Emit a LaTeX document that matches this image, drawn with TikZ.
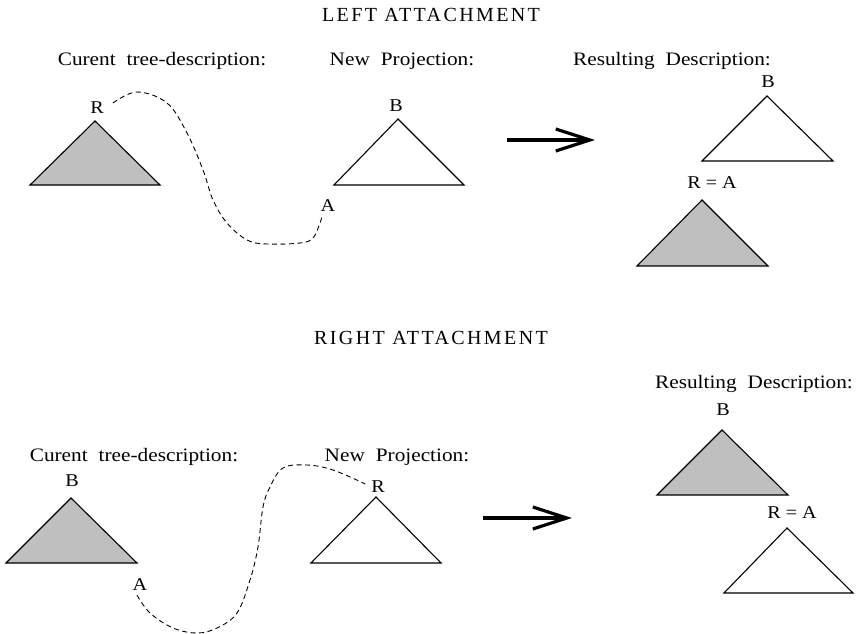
\documentclass[tikz,border=0pt]{standalone}
\usepackage{fontspec}
\setmainfont{Liberation Serif}[FakeStretch=1.12]
\newfontfamily\headfont{Liberation Serif}[LetterSpace=12]
\usetikzlibrary{arrows.meta}

\newcommand\capfont{\fontsize{19}{21}\selectfont\spaceskip 11pt\relax}

\tikzset{
  lab/.style={font=\fontsize{18}{20}\selectfont, inner sep=0pt},
  caption/.style={font=\capfont, inner sep=0pt, anchor=base},
  title/.style={font=\headfont\fontsize{20}{22}\selectfont, inner sep=0pt, anchor=base},
  tree/.style={draw=black, line width=1.1pt},
  shadedtree/.style={tree, fill=black!25},
  link/.style={line width=0.9pt, dash pattern=on 5pt off 3.5pt},
  bigarrow/.style={line width=3.2pt, -{Straight Barb[length=34pt,width=22pt]}}
}

\begin{document}
\begin{tikzpicture}[x=1pt,y=-1pt]
\useasboundingbox (0,0) rectangle (868,634);

% left attachment
\node[title] (t1) at (431,22) {LEFT ATTACHMENT};
\node[caption] (c1) at (162,66) {Curent tree-description:};
\node[caption] (p1) at (402,66) {New Projection:};
\node[caption] (d1) at (672,66) {Resulting Description:};

\draw[shadedtree] (95,121) -- (160,185) -- (30,185) -- cycle;
\node[lab] (r1) at (97,108) {R};
\draw[tree] (398,119) -- (464,185) -- (334,185) -- cycle;
\node[lab] (b1) at (396,106) {B};
\node[lab] (a1) at (328,206) {A};
\draw[link] plot[smooth, tension=0.6] coordinates {([xshift=9pt,yshift=5pt]r1.east) (137,92) (167,103) (187,133) (203,170) (213,200) (227,223) (247,240) (267,244) (300,243) (313,238) (320,223) ([xshift=-6pt,yshift=-4pt]a1.south)};

\coordinate (s1) at (507,140);
\coordinate (e1) at (595,140);
\draw[bigarrow] (s1) -- (e1);

\draw[tree] (767,96) -- (833,161) -- (702,161) -- cycle;
\node[lab] (rb1) at (768,82) {B};
\node[lab] (ra1) at (712,183) {R = A};
\draw[shadedtree] (702,200) -- (768,266) -- (637,266) -- cycle;

% right attachment
\node[title] (t2) at (431,344) {RIGHT ATTACHMENT};
\node[caption] (d2) at (754,388) {Resulting Description:};
\node[caption] (c2) at (134,461) {Curent tree-description:};
\node[caption] (p2) at (397,461) {New Projection:};

\draw[shadedtree] (71,498) -- (137,563) -- (6,563) -- cycle;
\node[lab] (b2) at (72,481) {B};
\node[lab] (a2) at (140,585) {A};
\draw[tree] (376,497) -- (441,563) -- (311,563) -- cycle;
\node[lab] (r2) at (378,487) {R};
\draw[link] plot[smooth, tension=0.6] coordinates {([xshift=-3pt,yshift=-4pt]a2.south) (150,613) (173,628) (197,633) (217,628) (237,613) (250,580) (258,547) (263,507) (270,487) (283,468) (307,465) (333,470) ([xshift=-6pt,yshift=-3pt]r2.north west)};

\coordinate (s2) at (483,518);
\coordinate (e2) at (572,518);
\draw[bigarrow] (s2) -- (e2);

\node[lab] (rb2) at (723,410) {B};
\draw[shadedtree] (722,430) -- (788,495) -- (657,495) -- cycle;
\node[lab] (ra2) at (792,513) {R = A};
\draw[tree] (787,528) -- (853,593) -- (724,593) -- cycle;
\end{tikzpicture}
\end{document}
